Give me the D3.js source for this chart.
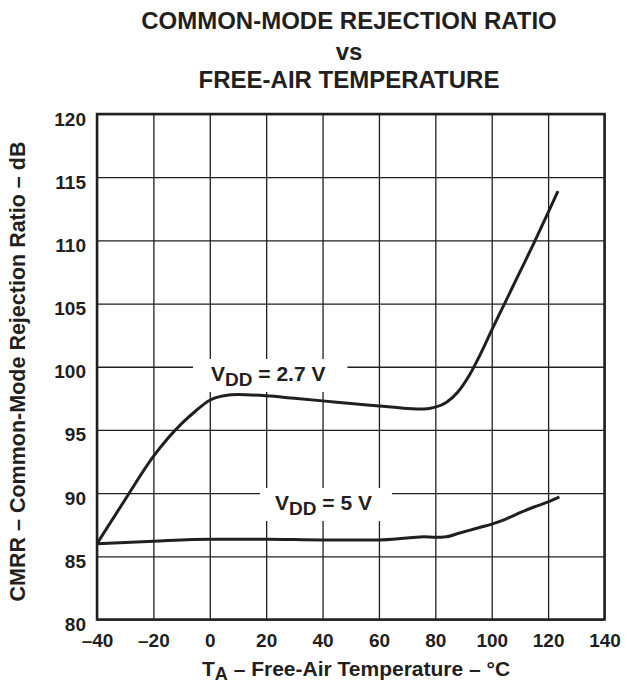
<!DOCTYPE html>
<html>
<head>
<meta charset="utf-8">
<script src="https://cdn.jsdelivr.net/npm/d3@7"></script>
<style>
  body { margin: 0; background: #fff; }
  text { font-family: "Liberation Sans", Arial, sans-serif; font-weight: bold; fill: #231f20; }
</style>
</head>
<body>
<svg id="chart" width="625" height="685"></svg>
<script>
// ---- data ----
var titleLines = ['COMMON-MODE REJECTION RATIO', 'vs', 'FREE-AIR TEMPERATURE'];
var xTicks = [-40, -20, 0, 20, 40, 60, 80, 100, 120, 140];
var yTicks = [80, 85, 90, 95, 100, 105, 110, 115, 120];

// VDD = 2.7 V
var temp27 = [-40, -30, -20, -15, -10, -5, 0, 5, 10, 20, 30, 40, 50, 60, 70, 76, 80, 84, 88, 92, 96, 100, 105, 110, 115, 120, 123.5];
var cmrr27 = [86.0, 89.5, 92.9, 94.3, 95.5, 96.5, 97.35, 97.7, 97.8, 97.7, 97.5, 97.3, 97.1, 96.9, 96.7, 96.65, 96.8, 97.2, 98.0, 99.3, 101.0, 102.9, 105.2, 107.5, 109.8, 112.2, 113.9];

// VDD = 5 V
var temp5 = [-40, -20, 0, 20, 40, 60, 70, 76, 80, 84, 88, 92, 96, 100, 105, 110, 115, 120, 124];
var cmrr5 = [86.0, 86.2, 86.35, 86.35, 86.3, 86.3, 86.45, 86.55, 86.5, 86.55, 86.8, 87.05, 87.3, 87.55, 87.95, 88.45, 88.9, 89.3, 89.7];

var svg = d3.select('#chart');
var x = d3.scaleLinear().domain([-40, 140]).range([97, 604.5]);
var y = d3.scaleLinear().domain([80, 120]).range([619.5, 114]);
var plotH = y(80) - y(120);
var plotW = x(140) - x(-40);

var fmt = function(d) { return d < 0 ? '\u2013' + Math.abs(d) : String(d); };

// title
svg.append('g').selectAll('text')
  .data(titleLines)
  .enter().append('text')
  .attr('x', 349)
  .attr('y', function(d, i) { return [28.5, 60, 88][i]; })
  .attr('text-anchor', 'middle')
  .style('font-size', '24px')
  .text(function(d) { return d; });

// grid + tick labels
var xAxis = svg.append('g')
  .attr('transform', 'translate(0,' + y(80) + ')')
  .call(d3.axisBottom(x).tickValues(xTicks).tickSizeInner(-plotH).tickSizeOuter(0).tickPadding(14).tickFormat(fmt));

var yAxis = svg.append('g')
  .attr('transform', 'translate(' + x(-40) + ',0)')
  .call(d3.axisLeft(y).tickValues(yTicks).tickSizeInner(-plotW).tickSizeOuter(0).tickPadding(11).tickFormat(fmt));

[xAxis, yAxis].forEach(function(a) {
  a.select('.domain').remove();
  a.selectAll('.tick line').attr('stroke', '#231f20').attr('stroke-width', 1.3);
  a.selectAll('.tick text')
    .style('font-size', '19px')
    .style('font-family', '"Liberation Sans", Arial, sans-serif')
    .style('font-weight', 'bold')
    .attr('fill', '#231f20');
});
yAxis.selectAll('.tick text').attr('dy', '0.58em');

// curve labels with white boxes that break the grid
function curveLabel(tx, ty, sub, rest, padL, padR, size) {
  var g = svg.append('g');
  var bg = g.append('rect').attr('fill', '#fff');
  var t = g.append('text').attr('x', tx).attr('y', ty).style('font-size', size + 'px');
  t.append('tspan').text('V');
  t.append('tspan').attr('dy', 5).style('font-size', (size - 2) + 'px').text(sub);
  t.append('tspan').attr('dy', -5).text(rest);
  var bb = t.node().getBBox();
  bg.attr('x', bb.x - padL).attr('y', bb.y - 3).attr('width', bb.width + padL + padR).attr('height', bb.height + 5);
}
curveLabel(211, 381, 'DD', ' = 2.7 V', 18, 22, 21);
curveLabel(275, 510, 'DD', ' = 5 V', 15, 20, 21);

// curves
var line = d3.line()
  .x(function(d) { return x(d[0]); })
  .y(function(d) { return y(d[1]); })
  .curve(d3.curveMonotoneX);

svg.append('path')
  .datum(d3.zip(temp27, cmrr27))
  .attr('d', line)
  .attr('fill', 'none').attr('stroke', '#231f20').attr('stroke-width', 3);

svg.append('path')
  .datum(d3.zip(temp5, cmrr5))
  .attr('d', line)
  .attr('fill', 'none').attr('stroke', '#231f20').attr('stroke-width', 3);

// frame
svg.append('rect')
  .attr('x', x(-40)).attr('y', y(120))
  .attr('width', plotW).attr('height', plotH)
  .attr('fill', 'none').attr('stroke', '#231f20').attr('stroke-width', 2.5);

// axis titles
var xt = svg.append('text')
  .attr('x', 202).attr('y', 676)
  .style('font-size', '21px');
xt.append('tspan').text('T');
xt.append('tspan').attr('dy', 4).style('font-size', '18px').text('A');
xt.append('tspan').attr('dy', -4).text(' \u2013 Free-Air Temperature \u2013 \u00b0C');

svg.append('text')
  .attr('transform', 'translate(25,371.5) rotate(-90)')
  .attr('text-anchor', 'middle')
  .style('font-size', '21.5px')
  .text('CMRR \u2013 Common-Mode Rejection Ratio \u2013 dB');
</script>
</body>
</html>
